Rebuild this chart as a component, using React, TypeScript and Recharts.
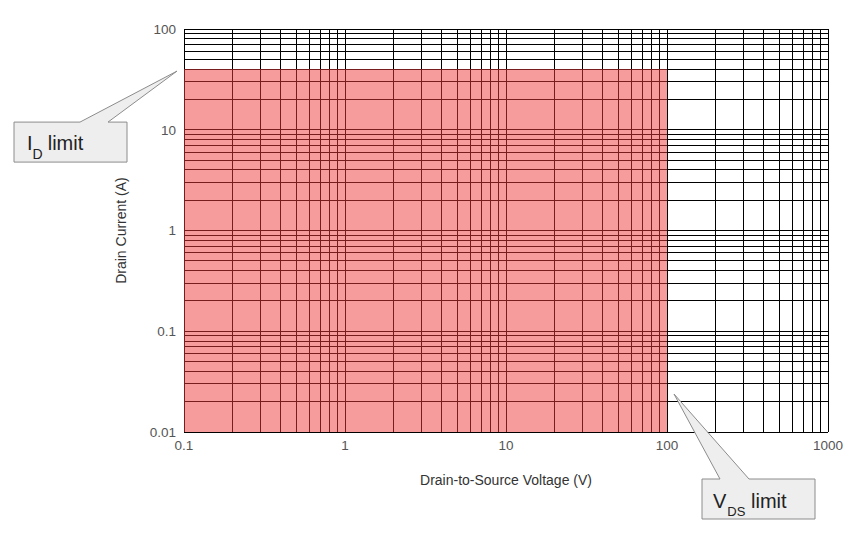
import React from 'react';
import { ComposedChart, XAxis, YAxis, ReferenceLine, ReferenceArea, ReferenceDot, Label } from 'recharts';

// axis ranges and labelled ticks
const xDomain = [0.1, 1000];
const yDomain = [0.01, 100];
const xTicks = [0.1, 1, 10, 100, 1000];
const yTicks = [0.01, 0.1, 1, 10, 100];

// log grid lines (every 1..9 step of each decade)
const xGrid = [
  0.1, 0.2, 0.3, 0.4, 0.5, 0.6, 0.7, 0.8, 0.9,
  1, 2, 3, 4, 5, 6, 7, 8, 9,
  10, 20, 30, 40, 50, 60, 70, 80, 90,
  100, 200, 300, 400, 500, 600, 700, 800, 900,
  1000,
];
const yGrid = [
  0.01, 0.02, 0.03, 0.04, 0.05, 0.06, 0.07, 0.08, 0.09,
  0.1, 0.2, 0.3, 0.4, 0.5, 0.6, 0.7, 0.8, 0.9,
  1, 2, 3, 4, 5, 6, 7, 8, 9,
  10, 20, 30, 40, 50, 60, 70, 80, 90,
  100,
];

// safe operating area limits
const idLimit = 40;
const vdsLimit = 100;

const FONT = '"Liberation Sans", Arial, sans-serif';
const CALLOUT_FILL = '#eeeeee';
const CALLOUT_STROKE = '#8c8c8c';

const IdCallout = (props: any) => {
  const { cx, cy } = props;
  if (cx == null || cy == null) return null;
  const d = [
    `M${cx - 170},${cy + 53}`,
    `L${cx - 104},${cy + 53}`,
    `L${cx - 7},${cy + 2}`,
    `L${cx - 76},${cy + 53}`,
    `L${cx - 57},${cy + 53}`,
    `L${cx - 57},${cy + 93}`,
    `L${cx - 170},${cy + 93}`,
    'Z',
  ].join(' ');
  return (
    <g>
      <path d={d} fill={CALLOUT_FILL} stroke={CALLOUT_STROKE} strokeWidth={1} />
      <text x={cx - 157} y={cy + 81} fontSize={20} fill="#222" fontFamily={FONT}>
        I
        <tspan dy={9} fontSize={14}>D</tspan>
        <tspan dy={-9} dx={5} fontSize={20}>limit</tspan>
      </text>
    </g>
  );
};

const VdsCallout = (props: any) => {
  const { cx, cy } = props;
  if (cx == null || cy == null) return null;
  const d = [
    `M${cx + 35},${cy + 47}`,
    `L${cx + 53},${cy + 47}`,
    `L${cx + 7},${cy - 38}`,
    `L${cx + 82},${cy + 47}`,
    `L${cx + 148},${cy + 47}`,
    `L${cx + 148},${cy + 87}`,
    `L${cx + 35},${cy + 87}`,
    'Z',
  ].join(' ');
  return (
    <g>
      <path d={d} fill={CALLOUT_FILL} stroke={CALLOUT_STROKE} strokeWidth={1} />
      <text x={cx + 46} y={cy + 76} fontSize={20} fill="#222" fontFamily={FONT}>
        V
        <tspan dy={8} dx={1} fontSize={13}>DS</tspan>
        <tspan dy={-8} dx={5.6} fontSize={20}>limit</tspan>
      </text>
    </g>
  );
};

const App = () => {
  return (
    <div style={{ position: 'absolute', left: 0, top: 0, width: 863, height: 547, background: '#fff' }}>
      <ComposedChart
        width={863}
        height={547}
        margin={{ top: 29, right: 35, bottom: 62, left: 115 }}
        style={{ fontFamily: FONT }}
      >
        <XAxis
          type="number"
          dataKey="x"
          scale="log"
          domain={xDomain}
          ticks={xTicks}
          allowDataOverflow
          axisLine={false}
          tickLine={false}
          height={53}
          tick={{ fill: '#555', fontSize: 13.5 }}
        >
          <Label
            value="Drain-to-Source Voltage (V)"
            position="insideBottom"
            offset={0}
            style={{ fill: '#333', fontSize: 14 }}
          />
        </XAxis>
        <YAxis
          type="number"
          dataKey="y"
          scale="log"
          domain={yDomain}
          ticks={yTicks}
          allowDataOverflow
          axisLine={false}
          tickLine={false}
          width={69}
          tick={{ fill: '#555', fontSize: 13.5 }}
        >
          <Label
            value="Drain Current (A)"
            angle={-90}
            position="insideLeft"
            offset={6}
            style={{ fill: '#333', fontSize: 14, textAnchor: 'middle' }}
          />
        </YAxis>
        {xGrid.map((v) => (
          <ReferenceLine key={`vx${v}`} x={v} stroke="#000" strokeWidth={1} shapeRendering="crispEdges" zIndex={50} />
        ))}
        {yGrid.map((v) => (
          <ReferenceLine key={`hy${v}`} y={v} stroke="#000" strokeWidth={1} shapeRendering="crispEdges" zIndex={50} />
        ))}
        <ReferenceArea
          x1={xDomain[0]}
          x2={vdsLimit}
          y1={yDomain[0]}
          y2={idLimit}
          fill="#f0393b"
          fillOpacity={0.5}
          stroke="none"
          zIndex={60}
        />
        <ReferenceDot x={xDomain[0]} y={idLimit} r={0} shape={IdCallout} zIndex={2000} />
        <ReferenceDot x={vdsLimit} y={yDomain[0]} r={0} shape={VdsCallout} zIndex={2000} />
      </ComposedChart>
    </div>
  );
};

export default App;
